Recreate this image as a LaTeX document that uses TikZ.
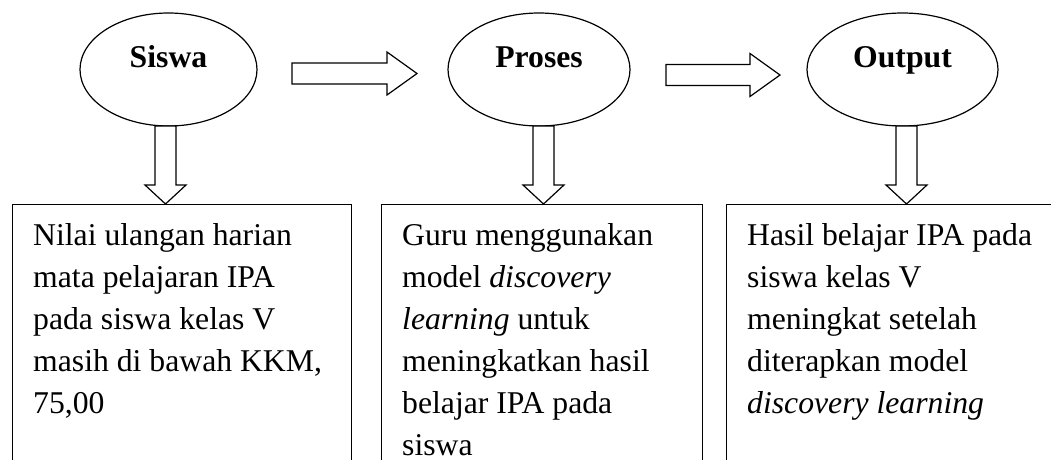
\documentclass[tikz,border=0pt]{standalone}
\usepackage{fontspec}
\setmainfont{Liberation Serif}
\usetikzlibrary{shapes.geometric}

\tikzset{
  stage/.style={draw, ellipse, line width=1.2pt, inner sep=0pt, minimum height=113pt},
  stagelbl/.style={font=\fontsize{31.7}{38}\selectfont\bfseries, anchor=base, inner sep=0pt},
  infobox/.style={draw, line width=1.2pt, anchor=north west, minimum height=300pt, inner sep=0pt},
  infotext/.style={font=\fontsize{31.7}{42}\selectfont, anchor=north west, align=left, inner sep=0pt},
  hollow/.style={draw, fill=white, line width=1.2pt, line join=miter}
}

\begin{document}
\begin{tikzpicture}[x=1pt, y=-1pt]
  \useasboundingbox (0,0) rectangle (1051,459);
  \clip (0,0) rectangle (1051,459);
  % ------- top: the three stages -------
  \node[stage, minimum width=177pt] (siswa) at (168.5,69.5) {};
  \node[stage, minimum width=182pt] (proses) at (539,69.5) {};
  \node[stage, minimum width=191pt] (output) at (902.5,69.5) {};
  \foreach \n/\lab in {siswa/Siswa, proses/Proses, output/Output}
    \node[stagelbl] (\n-lbl) at ([yshift=2.5pt]\n.center) {\lab};
  % ------- bottom: the three boxes (cut off by the page) -------
  \node[infobox, minimum width=339pt] (nilai) at (12,204) {};
  \node[infobox, minimum width=321pt] (guru) at (381,204) {};
  \node[infobox, minimum width=340pt] (hasil) at (726,204) {};
  \node[infotext] (nilai-txt) at ([xshift=21pt, yshift=-11.6pt]nilai.north west)
    {\strut Nilai ulangan harian\\ mata pelajaran IPA\\ pada siswa kelas V\\ masih di bawah KKM,\\ 75,00};
  \node[infotext] (guru-txt) at ([xshift=21pt, yshift=-11.6pt]guru.north west)
    {\strut Guru menggunakan\\ model \textit{discovery}\\ \textit{learning} untuk\\ meningkatkan hasil\\ belajar IPA pada\\ siswa};
  \node[infotext] (hasil-txt) at ([xshift=21pt, yshift=-11.6pt]hasil.north west)
    {\strut Hasil belajar IPA pada\\ siswa kelas V\\ meningkat setelah\\ diterapkan model\\ \textit{discovery learning}};
  % ------- hollow arrows: stage to stage, stage down to box -------
  \coordinate (h1) at (417,73.5);
  \coordinate (h2) at (780,75);
  \foreach \c/\sh in {h1/95, h2/84}
    \draw[hollow] (\c) -- ++(-30,-21.5) -- ++(0,11) -- ++(-\sh,0) -- ++(0,21)
      -- ++(\sh,0) -- ++(0,11) -- cycle;
  \coordinate (d1) at (165.5,204);
  \coordinate (d2) at (543.5,204);
  \coordinate (d3) at (906.5,204);
  \foreach \c in {d1,d2,d3}
    \draw[hollow] (\c) -- ++(-20.5,-19) -- ++(10,0) -- ++(0,-59) -- ++(21,0)
      -- ++(0,59) -- ++(10,0) -- cycle;
\end{tikzpicture}
\end{document}
